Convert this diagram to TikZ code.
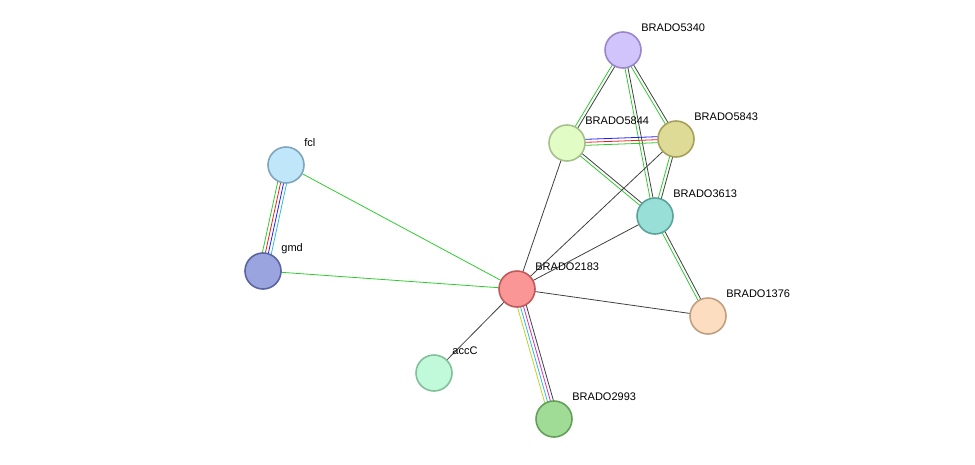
\documentclass[tikz,border=0pt]{standalone}
\usepackage{fontspec}
\setmainfont{Liberation Sans}
\usetikzlibrary{calc}
\definecolor{edark}{HTML}{404040}
\definecolor{egreen}{HTML}{2ECC2E}
\definecolor{eblue}{HTML}{2020F0}
\definecolor{ered}{HTML}{F02020}
\definecolor{ecyan}{HTML}{30B8E0}
\definecolor{emag}{HTML}{D030D0}
\definecolor{eyel}{HTML}{B8D820}
\newcommand{\edgeline}[4]{% from, to, offset, colour
  \draw[#4] ($(#1)!#3!90:(#2)$) -- ($(#2)!#3!-90:(#1)$);}
\begin{document}
\begin{tikzpicture}[x=1pt,y=-1pt,thick,
  prot/.style={circle,line width=1.6pt,minimum size=36pt,inner sep=0},
  lab/.style={anchor=west,font=\fontsize{11}{13}\selectfont,inner sep=0}]
\useasboundingbox (0,0) rectangle (975,464);
% proteins
\node[prot] (p5340) at (623,50) {};
\node[prot] (p5844) at (567,143) {};
\node[prot] (p5843) at (676,139) {};
\node[prot] (p3613) at (655,216) {};
\node[prot] (fcl) at (286,165) {};
\node[prot] (gmd) at (263,271) {};
\node[prot] (p2183) at (517,289) {};
\node[prot] (p1376) at (708,316) {};
\node[prot] (accC) at (434,373) {};
\node[prot] (p2993) at (554,419) {};
% edges
\foreach \a/\b in {p5340/p5844,p5340/p5843,p5340/p3613,p5844/p3613,p5843/p3613,p3613/p1376}{
  \edgeline{\a}{\b}{-1.5pt}{egreen}
  \edgeline{\a}{\b}{1.5pt}{edark}
}
\foreach \a/\b in {p5844/p2183,p5843/p2183,p3613/p2183,p2183/p1376,p2183/accC}{
  \edgeline{\a}{\b}{0pt}{edark}
}
\foreach \a in {fcl,gmd}{
  \edgeline{\a}{p2183}{0pt}{egreen}
}
\edgeline{p5844}{p5843}{3pt}{eblue}
\edgeline{p5844}{p5843}{0pt}{ered}
\edgeline{p5844}{p5843}{-3pt}{egreen}
\edgeline{fcl}{gmd}{4.5pt}{ecyan}
\edgeline{fcl}{gmd}{1.5pt}{eblue}
\edgeline{fcl}{gmd}{-1.5pt}{ered}
\edgeline{fcl}{gmd}{-4.5pt}{egreen}
\edgeline{p2183}{p2993}{-4.5pt}{eyel}
\edgeline{p2183}{p2993}{-1.5pt}{ecyan}
\edgeline{p2183}{p2993}{1.5pt}{emag}
\edgeline{p2183}{p2993}{4.5pt}{edark}
% node fills on top
\foreach \n/\f/\d in {p5340/D0C4FA/9A86C8,p5844/E1FCC4/A5C08A,p5843/DEDB96/A6A05A,
  p3613/98E0D7/5BA39A,fcl/C0E6FA/7FA5BC,gmd/9AA5E0/5A64A2,p2183/FA9696/C05A5A,
  p1376/FDDDC0/C0A080,accC/C0FADA/82C09A,p2993/A0DC96/62A05A}{
  \definecolor{nf}{HTML}{\f}\definecolor{nd}{HTML}{\d}
  \node[prot,fill=nf,draw=nd] at (\n) {};
}
% labels
\foreach \n/\t in {p5340/BRADO5340,p5844/BRADO5844,p5843/BRADO5843,p3613/BRADO3613,
  fcl/fcl,gmd/gmd,p2183/BRADO2183,p1376/BRADO1376,accC/accC,p2993/BRADO2993}{
  \node[lab] at ($(\n)+(18,-22)$) {\t};
}
\end{tikzpicture}
\end{document}
